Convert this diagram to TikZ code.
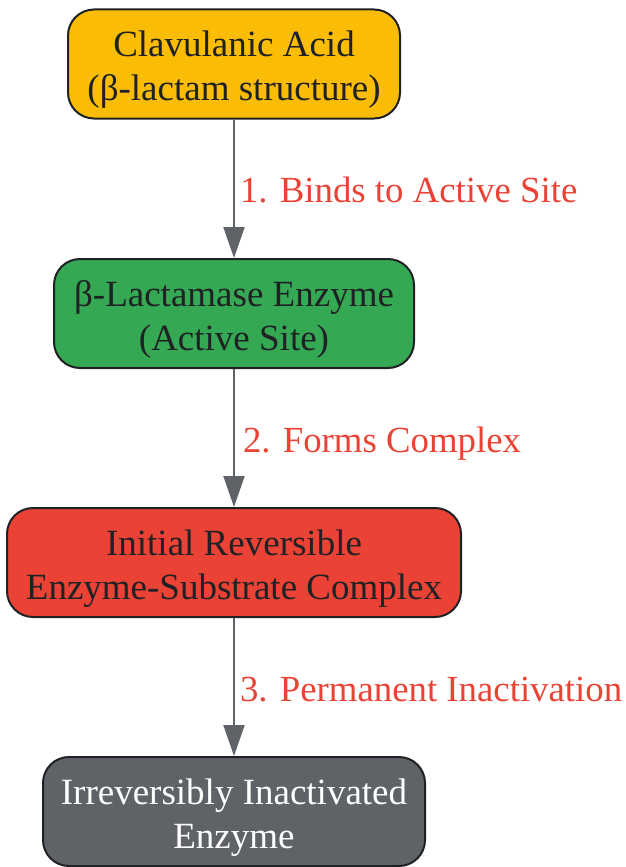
\documentclass[tikz,border=0pt]{standalone}
\usepackage{fontspec}
\setmainfont{Liberation Serif}
\usetikzlibrary{arrows.meta}
\definecolor{gyellow}{HTML}{FBBC05}
\definecolor{ggreen}{HTML}{34A853}
\definecolor{gred}{HTML}{EA4335}
\definecolor{ggray}{HTML}{5F6368}
\definecolor{gdark}{HTML}{202124}
\tikzset{
  stepbox/.style={draw=gdark, line width=2pt, rounded corners=26pt, align=center,
    inner sep=0pt, minimum height=109pt, text=gdark,
    font=\fontsize{37}{44}\selectfont},
  conn/.style={draw=ggray, line width=2pt, -{Triangle[length=31pt,width=21pt]}},
  lbl/.style={anchor=base west, inner sep=0pt, text=gred, font=\fontsize{36.8}{44}\selectfont}
}
\newcommand{\tstrut}{\rule{0pt}{37pt}}
\begin{document}
\begin{tikzpicture}[x=1pt,y=-1pt]
\useasboundingbox (0,0) rectangle (626,867);
\node[stepbox, fill=gyellow, minimum width=332pt] (a) at (234,64) {\tstrut Clavulanic Acid\\(β-lactam structure)};
\node[stepbox, fill=ggreen, minimum width=360pt] (b) at (234,313.5) {\tstrut β-Lactamase Enzyme\\(Active Site)};
\node[stepbox, fill=gred, minimum width=454pt] (c) at (234,562.5) {\tstrut Initial Reversible\\Enzyme-Substrate Complex};
\node[stepbox, fill=ggray, minimum width=382pt, text=white] (d) at (234,811.5) {\tstrut Irreversibly Inactivated\\Enzyme};
\draw[conn] (a) -- (b) node[lbl, pos=0.5, xshift=5pt, yshift=-14pt] (l1) {1. Binds to Active Site};
\draw[conn] (b) -- (c) node[lbl, pos=0.5, xshift=8pt, yshift=-14pt] (l2) {2. Forms Complex};
\draw[conn] (c) -- (d) node[lbl, pos=0.5, xshift=5pt, yshift=-14pt] (l3) {3. Permanent Inactivation};
\end{tikzpicture}
\end{document}
